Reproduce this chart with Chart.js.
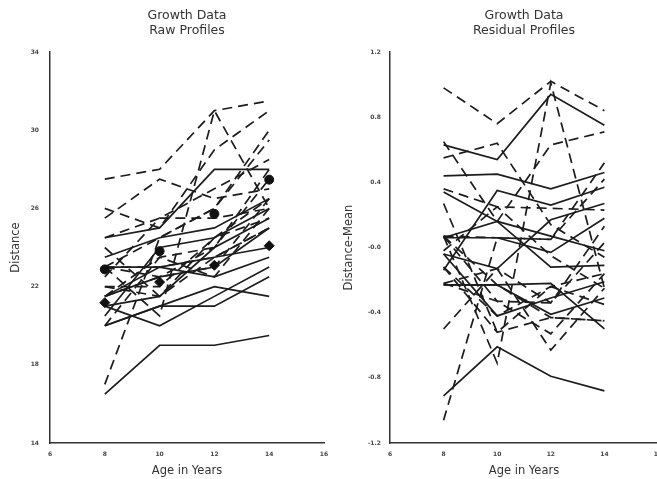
<!DOCTYPE html>
<html>
<head>
<meta charset="utf-8">
<title>Growth Data</title>
<script src="https://cdn.jsdelivr.net/npm/chart.js"></script>
<style>
  html, body { margin: 0; padding: 0; background: #fff; overflow: hidden; }
  #wrap { position: relative; width: 657px; height: 479px; overflow: hidden; }
  #left { position: absolute; left: 0; top: 0; }
  #right { position: absolute; left: 330px; top: 0; }
</style>
</head>
<body>
<div id="wrap">
  <canvas id="left" width="330" height="479" style="width:330px;height:479px"></canvas>
  <canvas id="right" width="340" height="479" style="width:340px;height:479px"></canvas>
</div>

<script>
// ages measured
const ages = [8, 10, 12, 14];

// raw distances, girls (solid) and boys (dashed)
const girlsRaw = [
  [21, 20, 21.5, 23],
  [21, 21.5, 24, 25.5],
  [20.5, 24, 24.5, 26],
  [23.5, 24.5, 25, 26.5],
  [21.5, 23, 22.5, 23.5],
  [20, 21, 21, 22.5],
  [21.5, 22.5, 23, 25],
  [23, 23, 23.5, 24],
  [20, 21, 22, 21.5],
  [16.5, 19, 19, 19.5],
  [24.5, 25, 28, 28]
];
const boysRaw = [
  [26, 25, 29, 31],
  [21.5, 22.5, 23, 26.5],
  [23, 22.5, 24, 27.5],
  [25.5, 27.5, 26.5, 27],
  [20, 23.5, 22.5, 26],
  [24.5, 25.5, 27, 28.5],
  [22, 22, 24.5, 26.5],
  [24, 21.5, 24.5, 25.5],
  [23, 20.5, 31, 26],
  [27.5, 28, 31, 31.5],
  [23, 23, 23.5, 25],
  [21.5, 23.5, 24, 28],
  [17, 24.5, 26, 29.5],
  [22.5, 25.5, 25.5, 26],
  [23, 24.5, 26, 30],
  [22, 21.5, 23.5, 25]
];

// group means (markers)
const boysMean = [22.88, 23.81, 25.72, 27.47];
const girlsMean = [21.18, 22.23, 23.09, 24.09];

// residual profiles
const girlsResid = [
  [-0.04, -0.42, -0.31, -0.21],
  [-0.04, -0.13, 0.17, 0.27],
  [-0.14, 0.35, 0.26, 0.37],
  [0.44, 0.45, 0.36, 0.46],
  [0.06, 0.16, -0.12, -0.11],
  [-0.23, -0.23, -0.41, -0.31],
  [0.06, 0.06, -0.03, 0.18],
  [0.34, 0.16, 0.07, -0.02],
  [-0.23, -0.23, -0.22, -0.50],
  [-0.91, -0.61, -0.79, -0.88],
  [0.63, 0.54, 0.94, 0.75]
];
const boysResid = [
  [0.65, 0.16, 0.63, 0.71],
  [-0.22, -0.33, -0.53, -0.16],
  [0.07, -0.33, -0.34, 0.03],
  [0.55, 0.64, 0.14, -0.06],
  [-0.50, -0.13, -0.63, -0.25],
  [0.36, 0.25, 0.24, 0.23],
  [-0.12, -0.42, -0.24, -0.16],
  [0.27, -0.52, -0.24, -0.35],
  [0.07, -0.71, 1.01, -0.25],
  [0.98, 0.76, 1.02, 0.84],
  [0.07, -0.23, -0.43, -0.45],
  [-0.22, -0.13, -0.34, 0.13],
  [-1.06, 0.06, 0.05, 0.42],
  [-0.02, 0.25, -0.05, -0.25],
  [0.07, 0.06, 0.05, 0.52],
  [-0.12, -0.52, -0.43, -0.45]
];

// tick labels
const xTicks = [6, 8, 10, 12, 14, 16];
const leftTicks = [14, 18, 22, 26, 30, 34];
const rightTicks = [-1.2, -0.8, -0.4, 0, 0.4, 0.8, 1.2];
const rightTickLabels = ['-1.2', '-0.8', '-0.4', '-0.0', '0.4', '0.8', '1.2'];

const ink = '#1c1c1c';
const fontFam = '"DejaVu Sans", "Liberation Sans", sans-serif';

function toPoints(vals) {
  return ages.map((a, i) => ({ x: a, y: vals[i] }));
}

function profileSets(rows, dashed) {
  return rows.map(r => ({
    data: toPoints(r),
    borderColor: ink,
    borderWidth: 1.7,
    borderDash: dashed ? [10, 6] : [],
    pointRadius: 0,
    fill: false,
    tension: 0
  }));
}

function makeChart(id, datasets, o) {
  return new Chart(document.getElementById(id), {
    type: 'line',
    data: { datasets: datasets },
    options: {
      responsive: false,
      animation: false,
      events: [],
      layout: { padding: { left: 0, right: o.padRight, top: 0, bottom: 0 } },
      plugins: {
        legend: { display: false },
        tooltip: { enabled: false },
        title: {
          display: true,
          fullSize: false,
          text: o.title,
          color: '#333',
          font: { family: fontFam, size: 12.5, weight: 'normal', lineHeight: 1.2 },
          padding: { top: 8, bottom: 14 }
        }
      },
      scales: {
        x: {
          type: 'linear',
          min: 6,
          max: 16,
          afterBuildTicks: s => { s.ticks = xTicks.map(v => ({ value: v })); },
          afterFit: s => { s.height = 36; s.paddingLeft = 0; s.paddingRight = 0; },
          grid: { display: false },
          border: { display: true, color: '#333', width: 1.5 },
          ticks: { color: '#444', padding: 0, font: { family: fontFam, size: 6, weight: 'bold' } },
          title: {
            display: true,
            text: 'Age in Years',
            color: '#333',
            font: { family: fontFam, size: 11.5, lineHeight: 1.2 },
            padding: { top: 0, bottom: 1 }
          }
        },
        y: {
          type: 'linear',
          min: o.yMin,
          max: o.yMax,
          afterBuildTicks: s => { s.ticks = o.yTicks.map(v => ({ value: v })); },
          afterFit: s => { s.width = o.yWidth; s.paddingTop = 0; s.paddingBottom = 0; },
          grid: { display: false },
          border: { display: true, color: '#333', width: 1.5 },
          ticks: {
            color: '#444',
            padding: o.tickPad,
            font: { family: fontFam, size: 6, weight: 'bold' },
            callback: o.yLabel
          },
          title: {
            display: true,
            text: o.yTitle,
            color: '#333',
            font: { family: fontFam, size: 11.5, lineHeight: 1.2 },
            padding: { top: o.yTitlePad, bottom: 0 }
          }
        }
      }
    }
  });
}

// left: raw profiles with group means
const leftSets = [
  {
    data: toPoints(boysMean), showLine: false, pointStyle: 'circle', pointRadius: 4.5,
    pointBackgroundColor: '#111', pointBorderColor: '#111', borderColor: '#111'
  },
  {
    data: toPoints(girlsMean), showLine: false, pointStyle: 'rectRot', pointRadius: 5,
    pointBackgroundColor: '#111', pointBorderColor: '#111', borderColor: '#111'
  }
].concat(profileSets(girlsRaw, false), profileSets(boysRaw, true));

makeChart('left', leftSets, {
  title: ['Growth Data', 'Raw Profiles'],
  padRight: 2,
  yMin: 14, yMax: 34,
  yTicks: leftTicks,
  yWidth: 50,
  tickPad: 3,
  yLabel: v => String(v),
  yTitle: 'Distance',
  yTitlePad: 9
});

// right: residual profiles
const rightSets = profileSets(girlsResid, false).concat(profileSets(boysResid, true));

makeChart('right', rightSets, {
  title: ['Growth Data', 'Residual Profiles'],
  padRight: 12,
  yMin: -1.2, yMax: 1.2,
  yTicks: rightTicks,
  yWidth: 60,
  tickPad: 1,
  yLabel: v => rightTickLabels[rightTicks.indexOf(v)],
  yTitle: 'Distance-Mean',
  yTitlePad: 12
});
</script>
</body>
</html>
